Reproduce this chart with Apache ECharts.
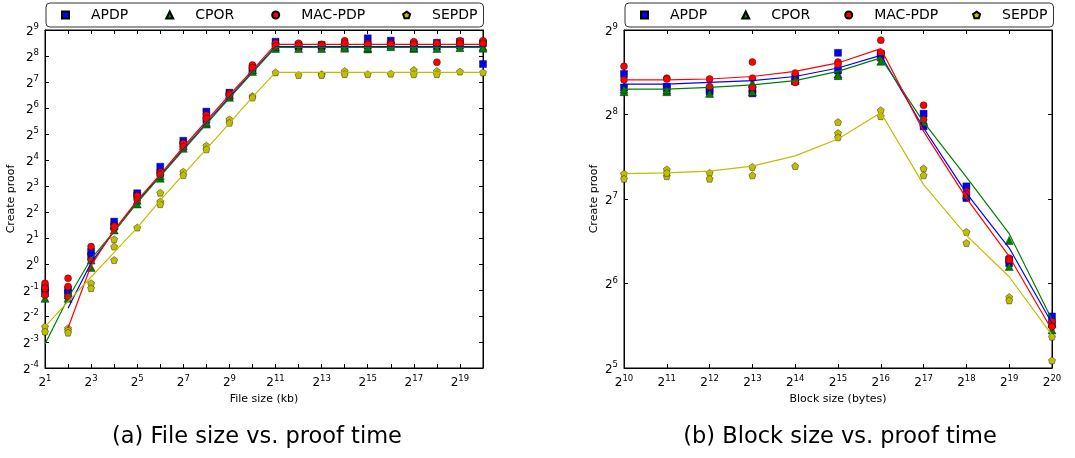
<!DOCTYPE html>
<html>
<head>
<meta charset="utf-8">
<script src="https://cdn.jsdelivr.net/npm/echarts@6/dist/echarts.min.js"></script>
<style>
  html, body { margin: 0; padding: 0; background: #fff; }
  #main { width: 1075px; height: 458px; }
</style>
</head>
<body>
<div id="main"></div>
<script>
// all values are log2 exponents: [log2(size), log2(time)]
var names = ['APDP', 'CPOR', 'MAC-PDP', 'SEPDP'];

// (a) file size vs. proof time
var fileExp = [1, 2, 3, 4, 5, 6, 7, 8, 9, 10, 11, 12, 13, 14, 15, 16, 17, 18, 19, 20];
var apdpFileLine = [null, -1.7, 0.05, 1.25, 2.4, 3.4, 4.42, 5.42, 6.42, 7.4, 8.36, 8.36, 8.36, 8.36, 8.36, 8.36, 8.36, 8.36, 8.36, 8.36];
var cporFileLine = [-3.08, -1.32, 0.2, 1.25, 2.35, 3.37, 4.38, 5.38, 6.38, 7.36, 8.33, 8.33, 8.33, 8.33, 8.33, 8.33, 8.33, 8.33, 8.33, 8.33];
var macFileLine = [null, -2.46, -0.05, 1.3, 2.45, 3.45, 4.5, 5.5, 6.5, 7.46, 8.45, 8.45, 8.45, 8.45, 8.45, 8.45, 8.45, 8.45, 8.45, 8.45];
var sepdpFileLine = [-2.41, -1.45, -0.5, 0.45, 1.4, 2.45, 3.45, 4.42, 5.42, 6.42, 7.37, 7.37, 7.37, 7.37, 7.37, 7.37, 7.37, 7.37, 7.37, 7.37];

var apdpFilePts = [[1,-0.93],[1,-1.05],[2,-1.0],[2,-1.13],[3,0.47],[3,0.3],[4,1.63],[4,1.44],[5,2.72],[5,2.62],[6,3.74],[6,3.5],[7,4.74],[7,4.6],[8,5.86],[8,5.54],[9,6.59],[9,6.45],[10,7.53],[10,7.45],[11,8.55],[11,8.38],[12,8.36],[12,8.42],[13,8.36],[13,8.42],[14,8.4],[15,8.68],[15,8.4],[16,8.59],[16,8.4],[17,8.36],[17,8.45],[18,8.51],[18,8.36],[19,8.55],[19,8.4],[20,8.49],[20,7.69]];
var cporFilePts = [[1,-1.32],[1,-1.1],[2,-1.19],[2,-1.32],[3,0.15],[3,-0.13],[4,1.5],[4,1.31],[5,2.31],[5,2.45],[6,3.3],[6,3.4],[7,4.45],[7,4.55],[8,5.38],[8,5.45],[9,6.41],[9,6.5],[10,7.4],[10,7.48],[11,8.29],[11,8.35],[12,8.29],[13,8.29],[14,8.36],[14,8.3],[15,8.27],[15,8.33],[16,8.36],[17,8.29],[17,8.33],[18,8.29],[19,8.32],[20,8.36],[20,8.3]];
var macFilePts = [[1,-0.74],[1,-0.93],[1,-1.19],[2,-0.55],[2,-0.87],[2,-1.26],[3,0.67],[3,0.15],[4,1.37],[4,1.45],[5,2.62],[5,2.46],[6,3.53],[6,3.45],[7,4.64],[7,4.51],[8,5.73],[8,5.6],[9,6.56],[9,6.5],[10,7.65],[10,7.55],[11,8.49],[11,8.38],[12,8.49],[12,8.4],[13,8.45],[13,8.4],[14,8.59],[14,8.49],[15,8.49],[15,8.45],[16,8.49],[16,8.45],[17,8.55],[17,8.45],[18,8.49],[18,7.76],[19,8.59],[19,8.49],[20,8.59],[20,8.49]];
var sepdpFilePts = [[1,-2.41],[1,-2.6],[2,-2.47],[2,-2.55],[2,-2.64],[3,-0.74],[3,-0.93],[4,0.95],[4,0.67],[4,0.15],[5,1.4],[6,2.74],[6,2.4],[6,2.3],[7,3.55],[7,3.42],[8,4.55],[8,4.41],[9,5.56],[9,5.43],[10,6.46],[10,6.4],[11,7.37],[12,7.27],[13,7.3],[13,7.27],[14,7.42],[14,7.3],[15,7.3],[16,7.32],[17,7.46],[17,7.3],[18,7.42],[18,7.3],[19,7.4],[20,7.37]];

// (b) block size vs. proof time
var blockExp = [10, 11, 12, 13, 14, 15, 16, 17, 18, 19, 20];
var apdpBlockLine = [8.36, 8.36, 8.38, 8.40, 8.45, 8.55, 8.70, 7.84, 7.07, 6.42, 5.53];
var cporBlockLine = [8.30, 8.30, 8.32, 8.35, 8.40, 8.51, 8.67, 7.91, 7.26, 6.59, 5.57];
var macBlockLine = [8.41, 8.41, 8.42, 8.45, 8.51, 8.61, 8.78, 7.80, 7.01, 6.32, 5.45];
var sepdpBlockLine = [7.30, 7.31, 7.33, 7.39, 7.51, 7.71, 8.02, 7.17, 6.57, 6.08, 5.39];

var apdpBlockPts = [[10,8.48],[10,8.32],[11,8.31],[11,8.33],[12,8.27],[12,8.3],[13,8.25],[13,8.3],[14,8.4],[14,8.44],[15,8.73],[15,8.52],[16,8.72],[16,8.7],[17,8.01],[17,7.86],[18,7.15],[18,7.01],[19,6.24],[19,6.28],[20,5.61],[20,5.52]];
var cporBlockPts = [[10,8.27],[10,8.3],[11,8.27],[11,8.29],[12,8.25],[13,8.27],[13,8.37],[14,8.4],[14,8.42],[15,8.48],[15,8.46],[16,8.68],[16,8.63],[17,7.91],[18,7.05],[19,6.51],[19,6.2],[20,5.53],[20,5.45]];
var macBlockPts = [[10,8.57],[10,8.41],[11,8.43],[11,8.42],[12,8.42],[12,8.33],[13,8.62],[13,8.43],[13,8.32],[14,8.49],[14,8.38],[15,8.62],[15,8.59],[16,8.88],[16,8.73],[17,8.11],[17,7.94],[18,7.09],[18,7.06],[19,6.3],[19,6.28],[20,5.55],[20,5.49]];
var sepdpBlockPts = [[10,7.3],[10,7.24],[11,7.35],[11,7.27],[11,7.31],[12,7.31],[12,7.24],[13,7.38],[13,7.28],[14,7.39],[15,7.91],[15,7.78],[15,7.73],[16,8.05],[16,7.98],[17,7.36],[17,7.28],[18,6.61],[18,6.48],[19,5.84],[19,5.8],[20,5.37],[20,5.09]];

var colors = ['#0000ff', '#008000', '#ff0000', '#bfbf00'];
var symbols = ['rect', 'triangle', 'circle',
  'path://M50,0 L97.6,34.5 L79.4,90.5 L20.6,90.5 L2.4,34.5 Z'];

function pow2Pts(pts) {
  return pts.map(function (p) { return [Math.pow(2, p[0]), Math.pow(2, p[1])]; });
}
function pow2Line(xs, ys) {
  var out = [];
  for (var i = 0; i < xs.length; i++) {
    if (ys[i] != null) out.push([Math.pow(2, xs[i]), Math.pow(2, ys[i])]);
  }
  return out;
}

function expLabel(oddOnly) {
  return function (v) {
    var e = Math.round(Math.log(v) / Math.LN2);
    if (oddOnly && e % 2 === 0) return '';
    return '{b|2}{s|' + e + '}';
  };
}
var rich = {
  b: { fontSize: 12, color: '#000', fontFamily: 'DejaVu Sans', verticalAlign: 'bottom' },
  s: { fontSize: 8.5, color: '#000', fontFamily: 'DejaVu Sans', verticalAlign: 'bottom', padding: [0, 0, 6, 0] }
};

function xAxes(gridIndex, min, max, name, oddOnly) {
  var base = {
    type: 'log', logBase: 2, gridIndex: gridIndex, min: min, max: max, interval: 1,
    splitLine: { show: false },
    axisLine: { lineStyle: { color: '#000', width: 1 } },
    axisTick: { inside: true, length: 4, lineStyle: { color: '#000' } }
  };
  var bottom = Object.assign({}, base, {
    position: 'bottom', name: name, nameLocation: 'middle', nameGap: 25,
    nameTextStyle: { fontSize: 11, color: '#000', fontFamily: 'DejaVu Sans' },
    axisLabel: { formatter: expLabel(oddOnly), rich: rich, margin: 6, showMaxLabel: true, showMinLabel: true }
  });
  var top = Object.assign({}, base, { position: 'top', axisLabel: { show: false } });
  return [bottom, top];
}
function yAxes(gridIndex, min, max, gap) {
  var base = {
    type: 'log', logBase: 2, gridIndex: gridIndex, min: min, max: max, interval: 1,
    splitLine: { show: false },
    axisLine: { lineStyle: { color: '#000', width: 1 } },
    axisTick: { inside: true, length: 4, lineStyle: { color: '#000' } }
  };
  var left = Object.assign({}, base, {
    position: 'left', name: 'Create proof', nameLocation: 'middle', nameGap: gap,
    nameTextStyle: { fontSize: 11, color: '#000', fontFamily: 'DejaVu Sans' },
    axisLabel: { formatter: expLabel(false), rich: rich, margin: 6, showMaxLabel: true, showMinLabel: true }
  });
  var right = Object.assign({}, base, { position: 'right', axisLabel: { show: false } });
  return [left, right];
}

var series = [];
var filePts = [apdpFilePts, cporFilePts, macFilePts, sepdpFilePts];
var fileLines = [apdpFileLine, cporFileLine, macFileLine, sepdpFileLine];
var blockPts = [apdpBlockPts, cporBlockPts, macBlockPts, sepdpBlockPts];
var blockLines = [apdpBlockLine, cporBlockLine, macBlockLine, sepdpBlockLine];

function addPlot(pts, lines, xs, xi, yi) {
  for (var i = 0; i < 4; i++) {
    series.push({
      name: names[i], type: 'scatter', xAxisIndex: xi, yAxisIndex: yi,
      symbol: symbols[i], symbolSize: i === 1 ? 8 : 7,
      itemStyle: { color: colors[i], borderColor: '#000', borderWidth: 0.4, opacity: 1 },
      data: pow2Pts(pts[i]), z: 2
    });
  }
  for (var j = 0; j < 4; j++) {
    series.push({
      name: names[j] + ' fit', type: 'line', xAxisIndex: xi, yAxisIndex: yi,
      showSymbol: false, symbol: 'none',
      lineStyle: { color: colors[j], width: 1.2 },
      data: pow2Line(xs, lines[j]), z: 3
    });
  }
}
addPlot(filePts, fileLines, fileExp, 0, 0);
addPlot(blockPts, blockLines, blockExp, 2, 2);

function legend(left, gap) {
  return {
    data: names, left: left, top: 3, orient: 'horizontal',
    itemWidth: 7, itemHeight: 7, itemGap: gap,
    padding: [5, 6, 5, 15],
    borderColor: '#333', borderWidth: 1, borderRadius: 4,
    textStyle: { fontSize: 14, color: '#000', fontFamily: 'DejaVu Sans', padding: [0, 0, 0, 17] },
    selectedMode: false
  };
}

var capFont = { fontSize: 22.5, fontWeight: 'normal', color: '#000', fontFamily: 'DejaVu Sans' };
var option = {
  animation: false,
  backgroundColor: '#fff',
  title: [
    { text: '(a) File size vs. proof time', left: 252, top: 421, textAlign: 'center', textStyle: capFont },
    { text: '(b) Block size vs. proof time', left: 835, top: 421, textAlign: 'center', textStyle: capFont }
  ],
  legend: [legend(46, 37), legend(625, 34)],
  grid: [
    { left: 45, top: 30, width: 438, height: 338, show: true, borderColor: '#000', borderWidth: 1, backgroundColor: '#fff' },
    { left: 624, top: 30, width: 428, height: 338, show: true, borderColor: '#000', borderWidth: 1, backgroundColor: '#fff' }
  ],
  xAxis: xAxes(0, 2, Math.pow(2, 20), 'File size (kb)', true)
    .concat(xAxes(1, Math.pow(2, 10), Math.pow(2, 20), 'Block size (bytes)', false)),
  yAxis: yAxes(0, Math.pow(2, -4), Math.pow(2, 9), 28)
    .concat(yAxes(1, Math.pow(2, 5), Math.pow(2, 9), 24)),
  series: series
};

var chart = echarts.init(document.getElementById('main'));
chart.setOption(option);
</script>
</body>
</html>
